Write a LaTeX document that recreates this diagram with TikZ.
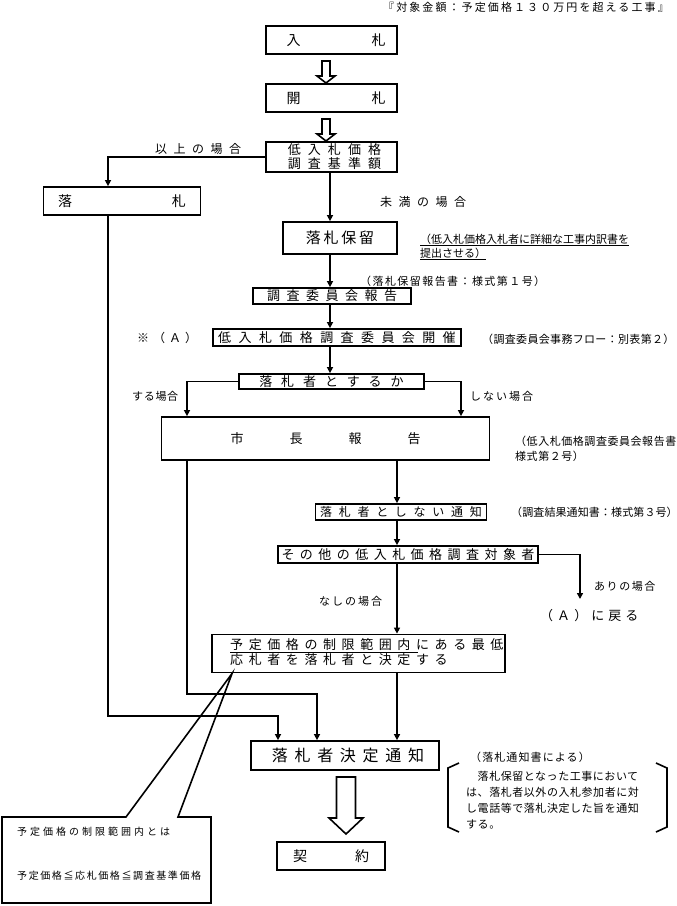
\documentclass[tikz,border=0pt]{standalone}
\usepackage{fontspec}
\setmainfont{Noto Sans CJK JP}
\usetikzlibrary{arrows.meta,calc}
\newcommand{\jfs}[3]{\fontsize{#1}{#2}\selectfont\addfontfeatures{LetterSpace=#3}}
\newcommand{\hollowarrow}[6]{%
  \draw[hollow] (#1-#5,#2) -- (#1-#5,#3) -- (#1-#6,#3) -- (#1,#4) -- (#1+#6,#3) -- (#1+#5,#3) -- (#1+#5,#2) -- cycle;}
\begin{document}
\begin{tikzpicture}[x=1pt,y=-1pt,
  box/.style={draw,line width=1.8pt,inner sep=0pt},
  lbl/.style={inner sep=0pt,anchor=west},
  con/.style={line width=1.6pt},
  arr/.style={con,-{Triangle[length=6pt,width=6pt]}},
  hollow/.style={draw,line width=1.6pt,line join=miter}]
\useasboundingbox (0,0) rectangle (677,906);

\node[lbl,font=\jfs{11}{13}{19}] (title) at (383,7) {『対象金額：予定価格１３０万円を超える工事』};

\node[box,minimum width=131pt,minimum height=28pt,font=\jfs{14}{16}{0}] (nyu) at (331.5,40) {\hspace*{9pt}入\hspace{71pt}札};
\node[box,minimum width=131pt,minimum height=28pt,font=\jfs{14}{16}{0}] (kai) at (331.5,98) {\hspace*{9pt}開\hspace{71pt}札};
\node[box,minimum width=131pt,minimum height=30pt,align=center,font=\jfs{13}{14}{54}] (kijun) at (331.5,157) {\hspace*{6pt}低入札価格\\\hspace*{6pt}調査基準額};
\hollowarrow{326}{61}{76}{83}{4}{9}
\hollowarrow{326}{119}{134}{141}{4}{9}

\node[lbl,font=\jfs{12}{14}{54}] (ijo) at (155,149) {以上の場合};
\node[box,minimum width=157pt,minimum height=28pt,font=\jfs{14}{16}{0}] (rak) at (122,201) {落\hspace{100pt}札};
\node[lbl,font=\jfs{12}{14}{54}] (miman) at (380,202) {未満の場合};
\node[box,minimum width=114pt,minimum height=32pt,font=\jfs{15}{17}{18}] (horyu) at (340,238) {落札保留};
\node[lbl,align=left,font=\jfs{11}{14}{0}] (note1) at (420,247) {\underline{（低入札価格入札者に詳細な工事内訳書を}\\\underline{提出させる）}};
\node[lbl,font=\jfs{11}{13}{13}] (form1) at (360,281) {（落札保留報告書：様式第１号）};
\node[box,minimum width=158pt,minimum height=16pt,font=\jfs{13}{15}{50}] (houkoku) at (332,296) {調査委員会報告};
\node[lbl,font=\jfs{12}{14}{33}] (ast) at (137,338) {※（Ａ）};
\node[box,minimum width=248pt,minimum height=17pt,font=\jfs{13}{15}{57}] (kaisai) at (337,337.5) {低入札価格調査委員会開催};
\node[lbl,font=\jfs{11}{13}{3}] (form2) at (482,339) {（調査委員会事務フロー：別表第２）};
\node[box,minimum width=185pt,minimum height=15pt,font=\jfs{13}{15}{69}] (suruka) at (331.5,381.5) {落札者とするか};
\node[lbl,font=\jfs{11}{13}{6}] (suru) at (132,396) {する場合};
\node[lbl,font=\jfs{11}{13}{18}] (shinaiba) at (470,396) {しない場合};
\node[box,minimum width=328pt,minimum height=43pt,font=\jfs{13}{15}{0}] (shicho) at (325.5,438.5) {市\hspace{46pt}長\hspace{46pt}報\hspace{46pt}告};
\node[lbl,align=left,font=\jfs{11}{15}{5}] (form3) at (515,448.5) {（低入札価格調査委員会報告書\\様式第２号）};
\node[box,minimum width=171pt,minimum height=16pt,font=\jfs{12}{14}{56}] (shinai) at (401,512) {落札者としない通知};
\node[lbl,font=\jfs{11}{13}{1}] (form4) at (511,512) {（調査結果通知書：様式第３号）};
\node[box,minimum width=260pt,minimum height=17pt,font=\jfs{13}{15}{42}] (sonota) at (408,554.5) {その他の低入札価格調査対象者};
\node[lbl,font=\jfs{11}{13}{14}] (ari) at (594,586) {ありの場合};
\node[lbl,font=\jfs{11}{13}{18}] (nashi) at (319,601) {なしの場合};
\coordinate (ret) at (580,599);
\node[lbl,font=\jfs{13}{15}{31}] (modoru) at (540,616) {（Ａ）に戻る};
\node[box,minimum width=293pt,minimum height=38pt] (kettei) at (358.5,653.5) {};
\node[lbl,align=left,font=\jfs{13}{15}{43}] (ketteit) at (230,652) {予定価格の制限範囲内にある最低\\応札者を落札者と決定する};
\draw[line width=0.9pt] ($(ketteit.north west)+(0,14)$) -- ++(188,0);
\node[box,minimum width=188pt,minimum height=29pt,font=\jfs{16}{18}{42}] (tsuchi) at (345,755.5) {\hspace*{6pt}落札者決定通知};
\node[lbl,font=\jfs{11}{13}{10}] (form5) at (470,757) {（落札通知書による）};
\node[lbl,align=left,font=\jfs{11}{16}{5}] (expl) at (466,800) {　落札保留となった工事において\\は、落札者以外の入札参加者に対\\し電話等で落札決定した旨を通知\\する。};
\node[box,minimum width=108pt,minimum height=28pt,font=\jfs{14}{16}{0}] (keiyaku) at (331,856) {契\hspace{48pt}約};
\hollowarrow{346}{777}{818}{834}{9.5}{17}

% callout
\node[lbl,font=\jfs{10}{12}{30}] (c1) at (17,832) {予定価格の制限範囲内とは};
\node[lbl,font=\jfs{10}{12}{16}] (c2) at (17,876) {予定価格≦応札価格≦調査基準価格};
\draw[con] (126,817) -- ($(kettei.south west)+(21,0)$) -- (178,817) -- (211,817) -- (211,903) -- (2,903) -- (2,817) -- cycle;

% brackets
\draw[con] (459,763) -- (448,768) -- (448,827) -- (459,832);
\draw[con] (656,763) -- (667,768) -- (667,827) -- (656,832);

% connectors
\draw[arr] (kijun.west) -| (108,0 |- rak.north);
\draw[arr] (330,0 |- kijun.south) -- (330,0 |- horyu.north);
\draw[arr] (330,0 |- horyu.south) -- (330,0 |- houkoku.north);
\draw[arr] (330,0 |- houkoku.south) -- (330,0 |- kaisai.north);
\draw[arr] (330,0 |- kaisai.south) -- (330,0 |- suruka.north);
\draw[arr] (suruka.west) -| (187,0 |- shicho.north);
\draw[arr] (suruka.east) -| (461,0 |- shicho.north);
\draw[arr] (397,0 |- shicho.south) -- (397,0 |- shinai.north);
\draw[arr] (397,0 |- shinai.south) -- (397,0 |- sonota.north);
\draw[arr] (sonota.east) -| (ret);
\draw[arr] (397,0 |- sonota.south) -- (397,0 |- kettei.north);
\draw[arr] (397,0 |- kettei.south) -- (397,0 |- tsuchi.north);
\draw[arr] (108,0 |- rak.south) -- (108,716) -- (278,716) -- (278,0 |- tsuchi.north);
\draw[arr] (187,0 |- shicho.south) -- (187,694) -- (317,694) -- (317,0 |- tsuchi.north);
\end{tikzpicture}
\end{document}
